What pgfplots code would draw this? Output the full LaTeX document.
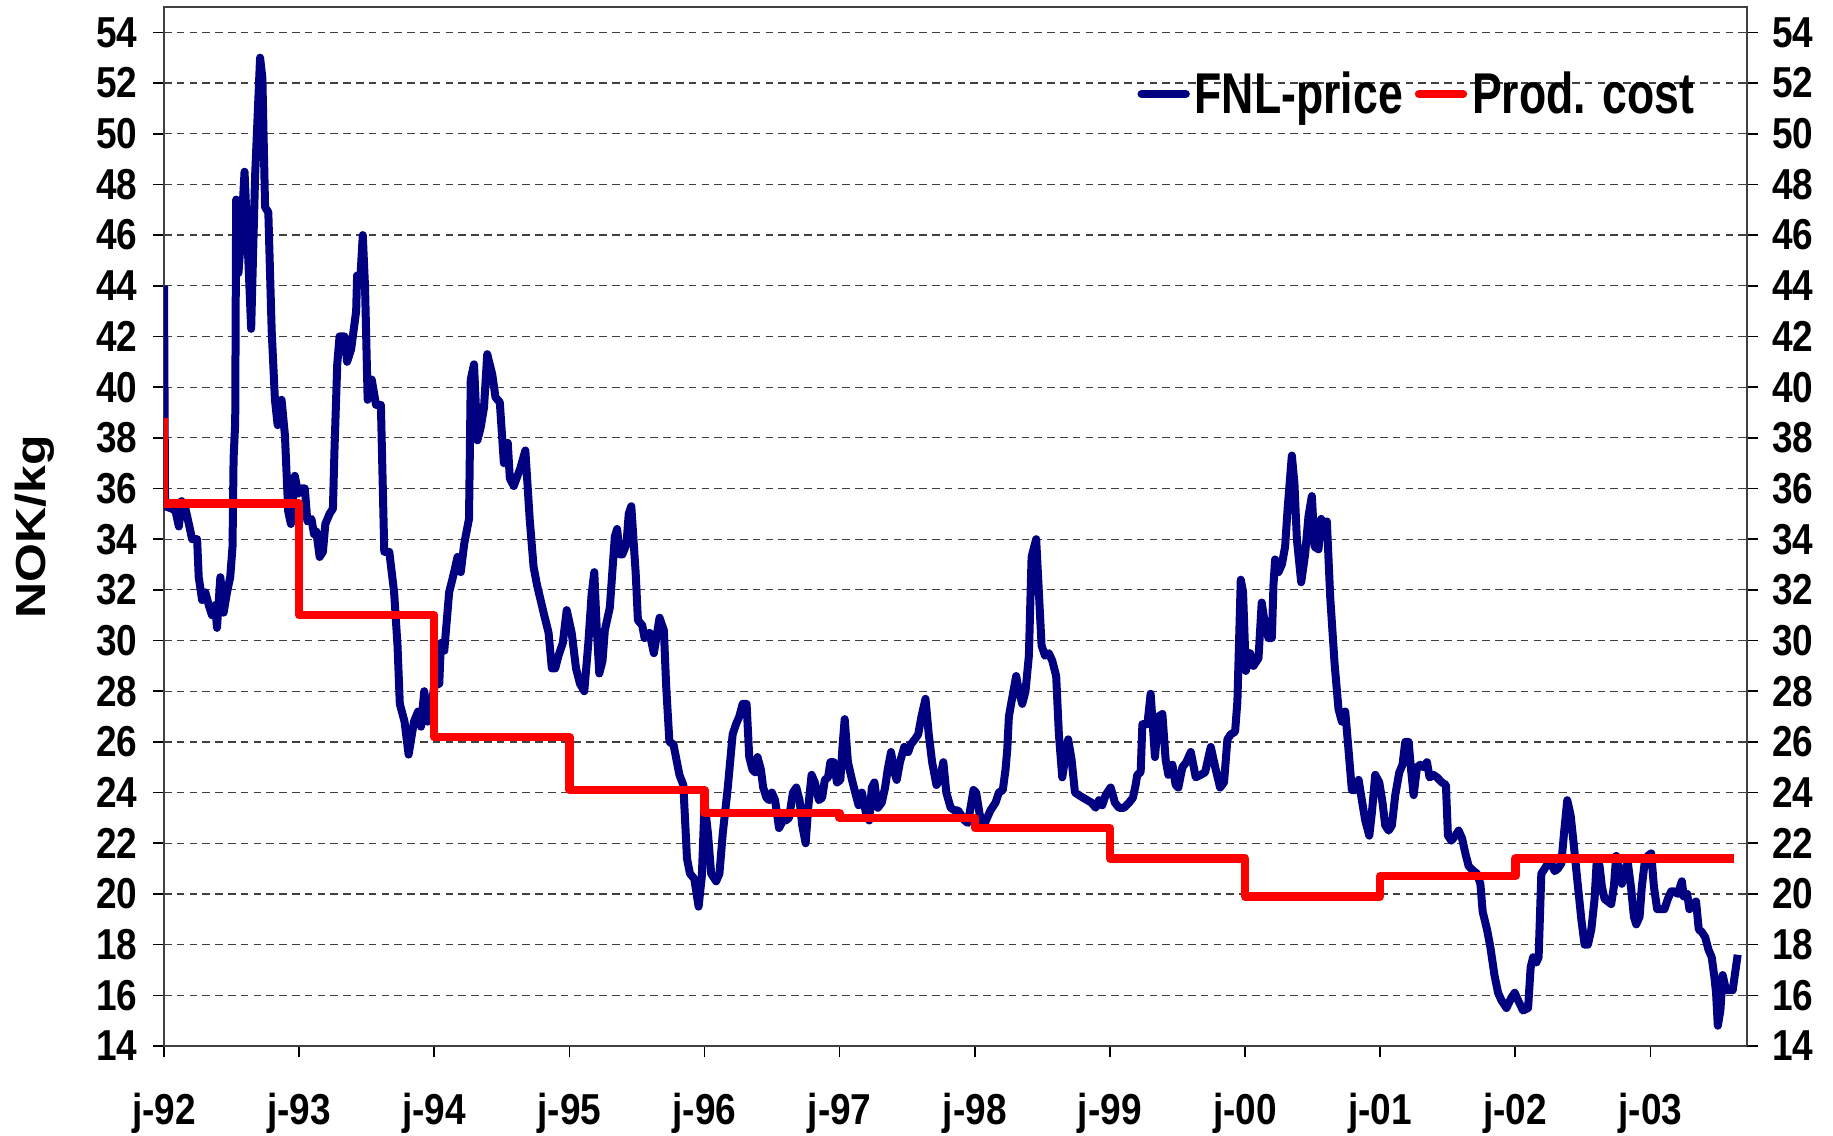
\documentclass[border=0pt]{standalone}
\usepackage{pgfplots}
\pgfplotsset{compat=1.18}
\usepackage{fontspec}
\setmainfont{Liberation Sans}
\usepackage{graphicx}
\definecolor{fnlblue}{RGB}{0,0,128}
\definecolor{costred}{RGB}{255,0,0}
\newcommand{\tickfont}{\fontsize{18.5}{20}\selectfont\bfseries}
\newcommand{\st}[1]{\scalebox{1}[1.17]{#1}}

\pgfplotstableread{
x y
1992.000 44.0
1992.008 35.3
1992.061 35.2
1992.086 35.1
1992.110 34.5
1992.130 35.5
1992.159 35.2
1992.184 34.6
1992.208 34.0
1992.245 34.0
1992.257 32.5
1992.282 31.6
1992.306 31.9
1992.331 31.4
1992.355 31.0
1992.380 31.4
1992.392 30.5
1992.417 32.5
1992.441 31.1
1992.466 31.9
1992.490 32.5
1992.507 33.7
1992.515 37.2
1992.527 38.6
1992.534 47.4
1992.551 44.5
1992.571 46.0
1992.596 48.5
1992.625 44.9
1992.645 42.3
1992.674 48.3
1992.711 53.0
1992.728 52.2
1992.748 47.1
1992.772 46.9
1992.797 42.2
1992.821 39.5
1992.841 38.5
1992.870 39.5
1992.895 38.1
1992.919 35.1
1992.939 34.6
1992.968 36.5
1992.993 35.8
1993.017 36.0
1993.042 36.0
1993.061 34.7
1993.091 34.8
1993.110 34.2
1993.127 34.3
1993.152 33.3
1993.176 33.5
1993.194 34.6
1993.225 35.0
1993.250 35.2
1993.262 37.6
1993.282 40.9
1993.299 42.0
1993.336 42.0
1993.355 41.0
1993.385 41.5
1993.422 43.0
1993.429 44.4
1993.453 44.3
1993.471 46.0
1993.488 43.9
1993.507 39.5
1993.537 40.3
1993.569 39.3
1993.605 39.3
1993.630 33.5
1993.667 33.5
1993.703 31.9
1993.728 29.8
1993.745 27.5
1993.780 26.8
1993.810 25.5
1993.850 26.8
1993.880 27.2
1993.902 26.6
1993.926 28.0
1993.951 26.8
1993.971 27.1
1994.000 28.2
1994.037 28.3
1994.049 29.9
1994.074 29.6
1994.110 31.9
1994.147 32.7
1994.172 33.3
1994.196 32.7
1994.221 33.8
1994.257 34.8
1994.270 40.3
1994.294 40.9
1994.319 37.9
1994.343 38.4
1994.368 39.2
1994.392 41.3
1994.429 40.5
1994.453 39.6
1994.485 39.4
1994.515 37.0
1994.544 37.8
1994.559 36.4
1994.588 36.1
1994.637 36.8
1994.674 37.5
1994.706 34.8
1994.735 32.9
1994.760 32.2
1994.809 31.1
1994.846 30.3
1994.870 28.9
1994.895 28.9
1994.919 29.4
1994.951 29.9
1994.980 31.2
1995.017 30.3
1995.049 28.9
1995.078 28.3
1995.110 28.0
1995.140 29.9
1995.164 31.8
1995.184 32.7
1995.201 30.6
1995.221 28.7
1995.245 29.2
1995.262 30.4
1995.299 31.3
1995.336 34.1
1995.353 34.4
1995.373 33.4
1995.392 33.4
1995.422 33.8
1995.439 35.0
1995.458 35.3
1995.490 32.7
1995.507 30.8
1995.539 30.6
1995.556 30.1
1995.593 30.3
1995.625 29.5
1995.667 30.9
1995.699 30.4
1995.716 28.2
1995.740 26.0
1995.770 25.9
1995.814 24.7
1995.843 24.3
1995.870 21.4
1995.892 20.8
1995.924 20.6
1995.956 19.5
1995.980 20.7
1996.000 23.6
1996.025 22.4
1996.049 20.8
1996.086 20.5
1996.110 20.8
1996.135 22.4
1996.172 24.2
1996.208 26.3
1996.233 26.7
1996.257 27.0
1996.282 27.5
1996.311 27.5
1996.331 25.4
1996.355 24.9
1996.375 24.8
1996.392 25.4
1996.417 24.9
1996.434 24.2
1996.458 23.8
1996.478 23.7
1996.498 24.0
1996.522 23.7
1996.551 22.6
1996.581 22.9
1996.600 22.9
1996.625 23.0
1996.654 24.0
1996.679 24.2
1996.703 23.7
1996.723 22.7
1996.748 22.0
1996.767 23.4
1996.792 24.7
1996.816 24.4
1996.846 23.7
1996.870 23.8
1996.890 24.5
1996.914 24.6
1996.931 25.2
1996.956 25.2
1996.980 24.4
1997.005 24.5
1997.022 25.9
1997.037 26.9
1997.061 25.2
1997.091 24.5
1997.115 24.0
1997.140 23.5
1997.164 24.0
1997.194 23.2
1997.218 22.9
1997.238 24.2
1997.257 24.4
1997.282 23.4
1997.311 23.6
1997.336 24.2
1997.355 24.9
1997.380 25.6
1997.404 24.8
1997.422 24.5
1997.446 25.2
1997.478 25.8
1997.507 25.6
1997.526 25.9
1997.556 26.1
1997.581 26.3
1997.605 27.0
1997.635 27.7
1997.659 26.3
1997.684 25.2
1997.716 24.3
1997.740 24.5
1997.767 25.2
1997.789 24.0
1997.821 23.4
1997.850 23.3
1997.875 23.3
1997.900 23.1
1997.924 22.9
1997.949 22.8
1997.968 23.4
1997.990 24.1
1998.010 24.0
1998.034 23.2
1998.059 22.6
1998.091 23.0
1998.116 23.3
1998.153 23.6
1998.178 24.0
1998.207 24.1
1998.227 24.9
1998.240 25.7
1998.252 27.0
1998.272 27.6
1998.306 28.6
1998.326 28.0
1998.351 27.5
1998.375 28.0
1998.400 29.4
1998.420 33.3
1998.454 34.0
1998.474 31.9
1998.494 29.8
1998.519 29.4
1998.548 29.5
1998.573 29.2
1998.602 28.6
1998.622 26.3
1998.647 24.6
1998.667 25.3
1998.691 26.1
1998.716 25.3
1998.741 24.0
1998.770 23.9
1998.800 23.8
1998.832 23.7
1998.864 23.6
1998.894 23.4
1998.919 23.7
1998.943 23.5
1998.968 23.9
1999.005 24.2
1999.037 23.6
1999.067 23.4
1999.104 23.4
1999.141 23.6
1999.170 23.8
1999.190 24.3
1999.202 24.7
1999.227 24.8
1999.240 26.7
1999.277 26.7
1999.301 27.9
1999.333 25.4
1999.358 27.0
1999.388 27.1
1999.412 25.3
1999.432 24.7
1999.462 25.1
1999.486 24.3
1999.506 24.2
1999.536 25.0
1999.565 25.2
1999.598 25.6
1999.635 24.6
1999.672 24.7
1999.704 24.8
1999.746 25.8
1999.783 24.9
1999.815 24.2
1999.844 24.4
1999.869 26.1
1999.894 26.3
1999.926 26.4
1999.943 27.6
1999.968 32.4
1999.985 31.9
2000.005 28.8
2000.037 29.5
2000.062 29.0
2000.099 29.3
2000.123 31.5
2000.148 30.6
2000.173 30.1
2000.198 30.1
2000.210 32.2
2000.222 33.2
2000.247 32.7
2000.272 33.0
2000.296 33.7
2000.316 35.3
2000.346 37.3
2000.365 36.2
2000.383 34.0
2000.415 32.3
2000.444 33.4
2000.469 34.9
2000.494 35.7
2000.514 33.7
2000.543 33.6
2000.563 34.8
2000.580 34.4
2000.605 34.7
2000.630 31.7
2000.662 29.1
2000.691 27.3
2000.716 26.8
2000.741 27.2
2000.765 25.7
2000.790 24.1
2000.815 24.1
2000.840 24.5
2000.864 23.7
2000.889 22.9
2000.919 22.3
2000.938 23.2
2000.963 24.7
2000.993 24.4
2001.017 23.6
2001.037 22.7
2001.062 22.5
2001.086 22.7
2001.111 23.9
2001.141 24.8
2001.165 25.1
2001.185 26.0
2001.210 26.0
2001.230 24.8
2001.247 23.9
2001.272 25.0
2001.296 25.1
2001.321 25.0
2001.346 25.2
2001.365 24.6
2001.395 24.7
2001.420 24.6
2001.457 24.4
2001.486 24.3
2001.501 22.3
2001.526 22.1
2001.556 22.3
2001.580 22.5
2001.605 22.2
2001.630 21.6
2001.654 21.1
2001.691 20.9
2001.716 20.8
2001.741 20.4
2001.758 19.3
2001.790 18.6
2001.815 17.9
2001.845 16.8
2001.872 16.1
2001.897 15.8
2001.934 15.5
2001.970 15.9
2001.995 16.1
2002.020 15.8
2002.057 15.4
2002.094 15.5
2002.113 17.1
2002.131 17.5
2002.155 17.3
2002.172 17.5
2002.192 20.8
2002.217 21.0
2002.241 21.2
2002.266 21.2
2002.291 20.9
2002.315 21.0
2002.340 21.2
2002.360 22.4
2002.384 23.7
2002.409 23.1
2002.433 21.9
2002.463 20.3
2002.488 19.0
2002.512 18.0
2002.537 18.0
2002.562 18.6
2002.586 19.8
2002.603 21.4
2002.623 21.1
2002.640 20.3
2002.660 19.8
2002.685 19.7
2002.709 19.6
2002.729 20.3
2002.746 21.5
2002.771 20.8
2002.788 20.4
2002.808 21.0
2002.833 21.2
2002.857 20.2
2002.877 19.1
2002.894 18.8
2002.919 19.1
2002.936 20.3
2002.956 21.2
2002.980 21.5
2003.005 21.6
2003.025 20.3
2003.049 19.4
2003.079 19.4
2003.103 19.4
2003.128 19.8
2003.153 20.1
2003.177 20.1
2003.202 20.0
2003.232 20.5
2003.246 19.9
2003.271 20.0
2003.288 19.4
2003.313 19.6
2003.337 19.7
2003.357 18.6
2003.379 18.5
2003.404 18.3
2003.429 17.8
2003.453 17.5
2003.473 16.7
2003.485 16.1
2003.498 14.8
2003.517 15.4
2003.534 16.8
2003.559 16.2
2003.584 16.2
2003.608 16.2
2003.645 17.6
}\fnldata

\pgfplotstableread{
x y
1992.000 38.8
1992.000 35.4
1993.000 35.4
1993.000 31.0
1994.000 31.0
1994.000 26.2
1995.000 26.2
1995.000 24.1
1996.000 24.1
1996.000 23.2
1997.000 23.2
1997.000 23.0
1998.000 23.0
1998.000 22.6
1999.000 22.6
1999.000 21.4
2000.000 21.4
2000.000 19.9
2001.000 19.9
2001.000 20.7
2002.000 20.7
2002.000 21.4
2003.620 21.4
}\costdata

\begin{document}
\begin{tikzpicture}
\path[use as bounding box] (0,0) rectangle (916.5pt,568pt);
\begin{axis}[
  at={(82pt,45pt)}, anchor=south west,
  scale only axis, width=791.5pt, height=519.5pt,
  xmin=1992, xmax=2003.714, ymin=14, ymax=55,
  ytick={14,16,...,54},
  xtick={1992,...,2003},
  xticklabels={\st{j-92},\st{j-93},\st{j-94},\st{j-95},\st{j-96},\st{j-97},\st{j-98},\st{j-99},\st{j-00},\st{j-01},\st{j-02},\st{j-03}},
  yticklabel={\st{\pgfmathprintnumber{\tick}}},
  /pgf/number format/assume math mode=true,
  tick align=outside, tick pos=left,
  major tick length=5.5pt,
  tick style={black, line width=0.8pt},
  axis line style={black!75, line width=1pt},
  ymajorgrids,
  major grid style={black!75, line width=0.6pt, dash pattern=on 3.8pt off 2.6pt},
  xticklabel style={font=\tickfont, anchor=base, inner sep=0pt, yshift=-33.5pt},
  yticklabel style={font=\tickfont, anchor=east, inner sep=0pt, xshift=-7.7pt},
  ylabel={\scalebox{1.19}[1]{NOK/kg}},
  ylabel style={font=\fontsize{21}{22}\selectfont\bfseries, at={(axis description cs:-0.0815,0.5)}, anchor=center},
  legend columns=-1,
  legend style={at={(0.6147,0.9163)}, anchor=west, draw=none, fill=none, inner sep=0pt,
    font=\fontsize{22.3}{24}\selectfont\bfseries,
    nodes={inner sep=0pt},
    /tikz/every odd column/.append style={column sep=2.4pt},
    /tikz/every even column/.append style={column sep=6pt}},
  legend image code/.code={\draw[#1, line cap=round, line width=4.2pt] (0pt,0pt) -- (22pt,0pt);},
]
\addplot[fnlblue, line width=4pt, line join=round] table[x=x, y=y] {\fnldata};
\addlegendentry{\scalebox{1}[1.29]{FNL-price}}
\addplot[costred, line width=4.2pt, line join=round] table[x=x, y=y] {\costdata};
\addlegendentry{\scalebox{1}[1.29]{Prod. cost}}
\end{axis}
\begin{axis}[
  at={(82pt,45pt)}, anchor=south west,
  scale only axis, width=791.5pt, height=519.5pt,
  xmin=1992, xmax=2003.714, ymin=14, ymax=55,
  axis x line=none, axis y line*=right,
  ytick={14,16,...,54},
  yticklabel={\st{\pgfmathprintnumber{\tick}}},
  /pgf/number format/assume math mode=true,
  tick align=outside,
  major tick length=5.5pt,
  tick style={black, line width=0.8pt},
  axis line style={black!75, line width=1pt},
  yticklabel style={font=\tickfont, anchor=west, inner sep=0pt, xshift=7pt},
]
\end{axis}
\end{tikzpicture}
\end{document}
